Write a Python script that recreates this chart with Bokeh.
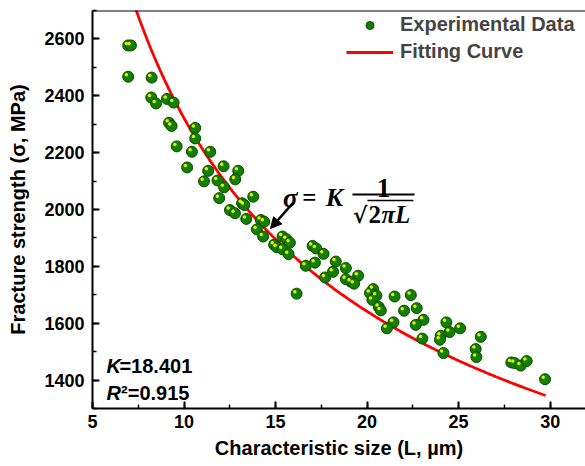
import numpy as np
from bokeh.plotting import figure
from bokeh.models import (ColumnDataSource, Range1d, LinearAxis, SingleIntervalTicker,
                          Legend, LegendItem, Label, Arrow, NormalHead, Span)
from bokeh.transform import dodge
from bokeh.embed import file_html
from bokeh.resources import INLINE

# ---------------- data ----------------
L_exp = [6.95, 7.10, 6.95, 8.23, 8.21, 8.47, 9.07, 9.43, 9.18, 9.32,
         10.61, 10.61, 9.60, 10.43, 11.43, 10.17, 11.32, 12.16, 12.96, 11.09,
         11.83, 12.80, 12.19, 11.92, 13.78, 13.17, 13.29, 12.51, 12.78, 13.40,
         14.20, 14.38, 13.98, 14.32, 14.92, 15.07, 15.38, 15.60, 15.78, 15.38,
         15.71, 16.65, 17.15, 17.02, 17.22, 17.62, 17.71, 16.15, 18.29, 18.14,
         18.84, 19.51, 18.84, 19.11, 19.29, 20.33, 20.16, 20.51, 20.29, 21.50,
         22.39, 20.64, 20.75, 22.02, 22.71, 21.44, 21.08, 23.08, 22.66, 23.02,
         24.33, 24.51, 24.02, 23.98, 25.08, 24.17, 26.21, 25.93, 25.97, 27.88,
         28.06, 28.39, 28.72, 29.72]
sigma_exp = [2577, 2577, 2467, 2464, 2394, 2373, 2389, 2376, 2305, 2294,
             2287, 2250, 2222, 2203, 2203, 2148, 2136, 2152, 2136, 2099,
             2102, 2106, 2078, 2040, 2045, 2022, 2016, 1998, 1987, 1967,
             1963, 1957, 1930, 1905, 1876, 1867, 1905, 1895, 1883, 1860,
             1843, 1802, 1813, 1872, 1863, 1844, 1761, 1704, 1817, 1781,
             1794, 1767, 1755, 1746, 1739, 1720, 1706, 1697, 1682, 1694,
             1699, 1657, 1645, 1644, 1653, 1603, 1582, 1612, 1594, 1546,
             1603, 1569, 1556, 1542, 1582, 1495, 1552, 1509, 1481, 1462,
             1460, 1451, 1467, 1403]

K_fit = 18.401
R2_fit = 0.915
fit_L_start = 7.2
fit_L_end = 29.75
# fitting model: sigma = K / sqrt(2*pi*L), L in metres -> MPa
L_fit = np.linspace(fit_L_start, fit_L_end, 300)
sigma_fit = K_fit / np.sqrt(2 * np.pi * L_fit * 1e-6)

series_labels = ["Experimental Data", "Fitting Curve"]
x_label = "Characteristic size (L, \u00b5m)"
y_label = "Fracture strength (\u03c3, MPa)"

# ---------------- figure ----------------
p = figure(width=585, height=466,
           x_range=Range1d(5, 31.93), y_range=Range1d(1300, 2700),
           x_axis_type=None, y_axis_type=None,
           output_backend="svg", toolbar_location=None,
           min_border_left=92, min_border_right=0,
           min_border_top=10, min_border_bottom=58)
p.outline_line_color = None
p.background_fill_color = "white"
p.border_fill_color = "white"

SANS = "Liberation Sans"
SERIF = "Liberation Serif"

def style_axis(ax, label):
    ax.axis_label = label
    ax.axis_line_width = 2
    ax.axis_line_color = "black"
    ax.major_tick_in = 7
    ax.major_tick_out = 0
    ax.minor_tick_in = 4
    ax.minor_tick_out = 0
    ax.major_tick_line_width = 2
    ax.minor_tick_line_width = 1.5
    ax.major_label_text_font = SANS
    ax.major_label_text_font_style = "bold"
    ax.major_label_text_font_size = "18px"
    ax.major_label_text_color = "black"
    ax.axis_label_text_font = SANS
    ax.axis_label_text_font_style = "bold"
    ax.axis_label_text_font_size = "20px"
    ax.axis_label_text_color = "black"

xax = LinearAxis(ticker=SingleIntervalTicker(interval=5, num_minor_ticks=2))
style_axis(xax, x_label)
xax.major_label_standoff = 6
xax.axis_label_standoff = 6
p.add_layout(xax, "below")

yax = LinearAxis(ticker=SingleIntervalTicker(interval=200, num_minor_ticks=2))
style_axis(yax, y_label)
yax.major_label_standoff = 8
yax.axis_label_standoff = 12
p.add_layout(yax, "left")

p.add_layout(Span(location=2700, dimension="width", line_color="black", line_width=2))

# ---------------- glyphs ----------------
src = ColumnDataSource(dict(L=L_exp, s=sigma_exp))
r_fit = p.line(L_fit, sigma_fit, line_color="#ff0000", line_width=2.8)
r_body = p.scatter("L", "s", source=src, size=11, fill_color="#127f00",
                   line_color="#0a4d00", line_width=1)
p.scatter(dodge("L", -0.1, range=p.x_range), dodge("s", 7, range=p.y_range),
          source=src, size=3.5, fill_color="#e8f000", line_color=None)

legend = Legend(items=[LegendItem(label=series_labels[0], renderers=[r_body]),
                       LegendItem(label=series_labels[1], renderers=[r_fit])],
                location=(254, 345), border_line_color=None,
                background_fill_alpha=0, padding=0, margin=0, spacing=4,
                glyph_width=47, glyph_height=20, label_height=20,
                label_standoff=7, label_text_font=SANS,
                label_text_font_style="bold", label_text_font_size="20px")
p.add_layout(legend)

# ---------------- annotations ----------------
def lab(x, y, t, font=SANS, style="bold", size="20px", align="left", base="alphabetic"):
    p.add_layout(Label(x=x, y=y, text=t, text_font=font, text_font_style=style,
                       text_font_size=size, text_align=align, text_baseline=base,
                       text_color="black"))

lab(5.76, 1451, "K", style="bold italic")
lab(6.47, 1451, "=%.3f" % K_fit)
lab(5.76, 1356, "R", style="bold italic")
lab(6.56, 1356, "\u00b2=%.3f" % R2_fit)

# formula sigma = K * 1/sqrt(2 pi L)
lab(15.81, 2042, "\u03c3", font=SERIF, style="bold italic", size="27px", align="center")
lab(16.85, 2042, "=", font=SERIF, style="bold", size="25px", align="center")
lab(18.22, 2042, "K", font=SERIF, style="bold italic", size="26px", align="center")
lab(20.89, 2077, "1", font=SERIF, style="bold", size="27px", align="center")
p.add_layout(Arrow(x_start=19.20, y_start=2053, x_end=22.59, y_end=2053, end=None,
                   line_width=2, line_color="black"))
lab(19.62, 1982, "\u221a", font="DejaVu Serif", style="bold", size="22px", align="center")
lab(20.07, 1982, "2", font=SERIF, style="bold", size="25px")
lab(20.78, 1982, "\u03c0L", font=SERIF, style="bold italic", size="25px")
p.add_layout(Arrow(x_start=20.02, y_start=2032, x_end=22.53, y_end=2032, end=None,
                   line_width=1.5, line_color="black"))

p.add_layout(Arrow(x_start=15.98, y_start=2025, x_end=14.72, y_end=1933,
                   line_width=2.5, line_color="black",
                   end=NormalHead(size=11, fill_color="black", line_color="black")))

open("out.html", "w").write(file_html(p, INLINE))
